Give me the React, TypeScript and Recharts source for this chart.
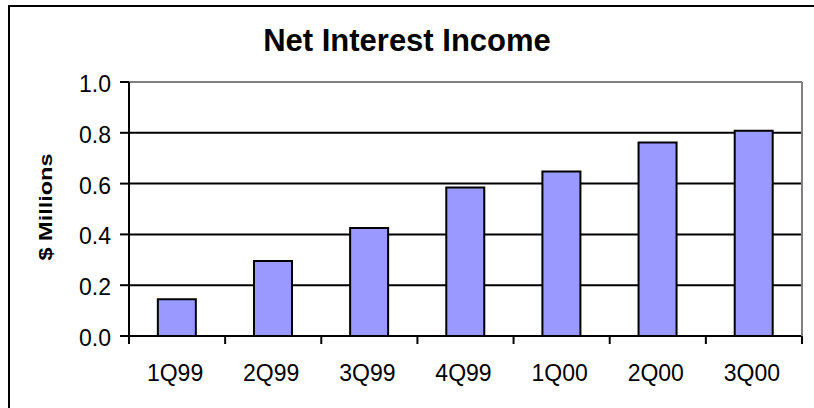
import React from 'react';
import { BarChart, Bar, XAxis, YAxis, CartesianGrid, ReferenceLine } from 'recharts';

const categories = ['1Q99', '2Q99', '3Q99', '4Q99', '1Q00', '2Q00', '3Q00'];
const netInterestIncome = [0.145, 0.295, 0.425, 0.585, 0.648, 0.762, 0.808];
const yTicks = [0, 0.2, 0.4, 0.6, 0.8, 1.0];

const title = 'Net Interest Income';
const yLabel = '$ Millions';

const data = categories.map((c, i) => ({ name: c, value: netInterestIncome[i] }));

const FONT = '"Liberation Sans", Arial, sans-serif';

const XTick = (props: any) => {
  const { x, y, payload, index } = props;
  const half = payload && payload.offset ? payload.offset : props.width / categories.length / 2;
  return (
    <g>
      <line x1={x - half} x2={x - half} y1={y} y2={y + 8} stroke="#000" strokeWidth={2} />
      {index === categories.length - 1 && (
        <line x1={x + half} x2={x + half} y1={y} y2={y + 8} stroke="#000" strokeWidth={2} />
      )}
      <text x={x - 2} y={y + 45} textAnchor="middle" fontSize={23} fontFamily={FONT} fill="#000">
        {payload.value}
      </text>
    </g>
  );
};

const YTick = (props: any) => {
  const { x, y, payload } = props;
  return (
    <g>
      <line x1={x - 9} x2={x} y1={y} y2={y} stroke="#000" strokeWidth={2} />
      <text x={x - 18} y={y + 10} textAnchor="end" fontSize={23} fontFamily={FONT} fill="#000">
        {Number(payload.value).toFixed(1)}
      </text>
    </g>
  );
};

const YLabel = (props: any) => {
  const vb = props.viewBox || { x: 0, y: 0, width: 0, height: 0 };
  const cx = 45;
  const cy = vb.y + vb.height / 2 - 2;
  return (
    <text
      x={cx}
      y={cy}
      transform={`rotate(-90, ${cx}, ${cy})`}
      textAnchor="middle"
      dominantBaseline="central"
      fontSize={19}
      fontWeight="bold"
      fontFamily={FONT}
      fill="#000"
      textLength={107}
      lengthAdjust="spacingAndGlyphs"
    >
      {yLabel}
    </text>
  );
};

export default function App() {
  return (
    <div style={{ position: 'absolute', left: 0, top: 0, width: 814, height: 408, background: '#fff' }}>
      <div
        style={{
          position: 'absolute',
          left: 8,
          top: 5,
          width: 806,
          height: 403,
          borderLeft: '2px solid #000',
          borderTop: '2px solid #000',
          boxSizing: 'border-box',
        }}
      />
      <div
        style={{
          position: 'absolute',
          left: 0,
          top: 23,
          width: 814,
          textAlign: 'center',
          fontFamily: FONT,
          fontWeight: 'bold',
          fontSize: 31,
          lineHeight: '36px',
          color: '#000',
        }}
      >
        {title}
      </div>
      <div style={{ position: 'absolute', left: 0, top: 0 }}>
        <BarChart
          width={814}
          height={408}
          data={data}
          margin={{ top: 82, right: 11, bottom: 0, left: 0 }}
          barCategoryGap="30%"
        >
          <CartesianGrid vertical={false} stroke="#000" strokeWidth={2} />
          <XAxis
            dataKey="name"
            height={72}
            tickSize={0}
            tickMargin={0}
            tickLine={false}
            axisLine={{ stroke: '#000', strokeWidth: 2 }}
            tick={<XTick />}
            interval={0}
          />
          <YAxis
            width={129}
            domain={[0, 1]}
            ticks={yTicks}
            tickSize={0}
            tickMargin={0}
            tickLine={false}
            axisLine={{ stroke: '#000', strokeWidth: 2 }}
            tick={<YTick />}
            label={<YLabel />}
          />
          <YAxis
            yAxisId="right"
            orientation="right"
            width={1}
            domain={[0, 1]}
            tick={false}
            tickLine={false}
            axisLine={{ stroke: '#808080', strokeWidth: 2 }}
          />
          <ReferenceLine y={1} stroke="#808080" strokeWidth={2} />
          <Bar dataKey="value" fill="#9999FF" stroke="#000" strokeWidth={2} isAnimationActive={false} />
        </BarChart>
      </div>
    </div>
  );
}
